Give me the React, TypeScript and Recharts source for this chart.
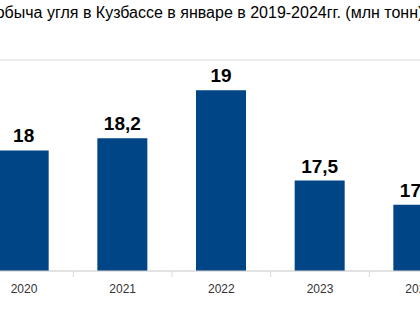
import { BarChart, Bar, XAxis, YAxis, CartesianGrid, LabelList } from 'recharts';

const years = ['2019', '2020', '2021', '2022', '2023', '2024'];
// 2019 falls outside the cropped frame, so its value is only a guess
const output = [18.6, 18, 18.2, 19, 17.5, 17.1];
const yTicks = [16, 16.5, 17, 17.5, 18, 18.5, 19, 19.5];
const title = 'Добыча угля в Кузбассе в январе в 2019-2024гг. (млн тонн)';

const data = years.map((year, i) => ({ year, value: output[i] }));

const FONT = '"Liberation Sans", Arial, sans-serif';

const YearTick = ({ x, y, payload }: any) => {
  const half = payload?.offset ?? 0;
  return (
    <g>
      <line x1={x + half} y1={y} x2={x + half} y2={y + 6} stroke="#d9d9d9" strokeWidth={1} />
      <text x={x} y={y + 22} textAnchor="middle" fontSize={12} fill="#333" fontFamily={FONT}>
        {payload.value}
      </text>
    </g>
  );
};

export default function App() {
  return (
    <div style={{ position: 'absolute', left: 0, top: 0, width: 420, height: 315, overflow: 'hidden', background: '#fff' }}>
      <div
        style={{
          position: 'absolute', left: -196, top: 4, width: 800, textAlign: 'center',
          fontFamily: FONT, fontSize: 16, color: '#000', whiteSpace: 'nowrap',
        }}
      >
        {title}
      </div>
      <div style={{ position: 'absolute', left: -124, top: 0 }}>
        <BarChart width={592} height={315} data={data} margin={{ top: 60, right: 0, left: 0, bottom: 14 }}>
          <CartesianGrid vertical={false} stroke="#d9d9d9" />
          <YAxis width={0} domain={[16, 19.5]} ticks={yTicks} tick={false} axisLine={false} tickLine={false} allowDataOverflow />
          <XAxis
            dataKey="year"
            height={30}
            stroke="#d9d9d9"
            tickLine={false}
            tickSize={0}
            tickMargin={0}
            tick={<YearTick />}
            interval={0}
          />
          <Bar dataKey="value" fill="#004586" barSize={50} isAnimationActive={false}>
            <LabelList
              dataKey="value"
              position="top"
              offset={8}
              formatter={(v: any) => String(v).replace('.', ',')}
              style={{ fontFamily: FONT, fontSize: 19, fontWeight: 'bold', fill: '#000' }}
            />
          </Bar>
        </BarChart>
      </div>
    </div>
  );
}
